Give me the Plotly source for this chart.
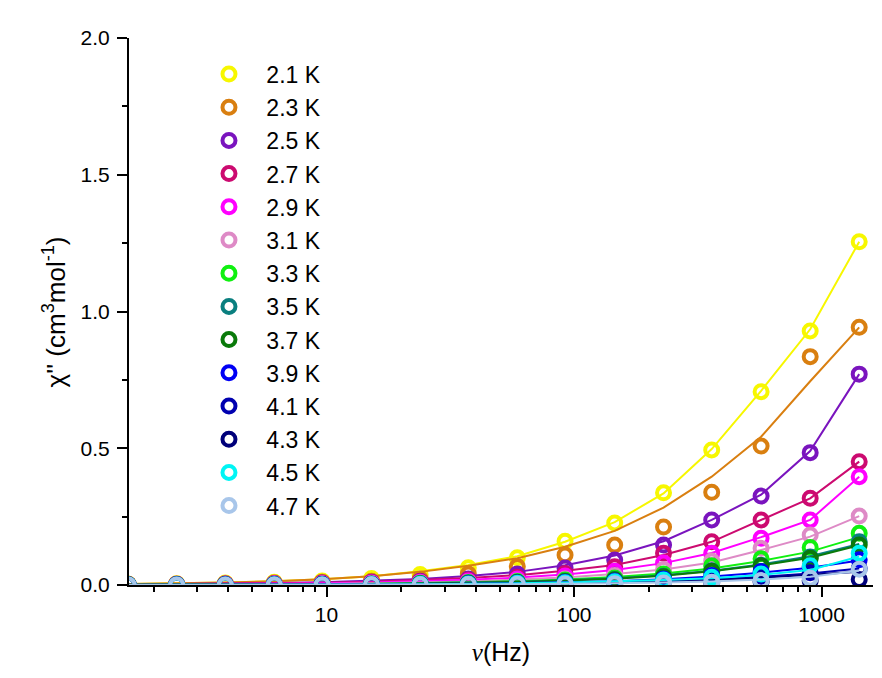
import plotly.graph_objects as go

# Frequencies (Hz)
freq = [1.58, 2.48, 3.9, 6.15, 9.6, 15.2, 23.9, 37.4, 59, 92, 146, 230, 360, 570, 900, 1420]

temps = ["2.1 K", "2.3 K", "2.5 K", "2.7 K", "2.9 K", "3.1 K", "3.3 K",
         "3.5 K", "3.7 K", "3.9 K", "4.1 K", "4.3 K", "4.5 K", "4.7 K"]

colors = ["#F7F700", "#D97F10", "#7A14BE", "#CC0A70", "#FF00FF", "#DE8AC6", "#10F010",
          "#0A7F7F", "#0A7A0A", "#0000F5", "#0000B0", "#00007A", "#00F5F5", "#A8C6EA"]

# Measured chi'' (cm3 mol-1)
chi_21 = [0.004, 0.005, 0.007, 0.010, 0.015, 0.024, 0.038, 0.063, 0.100, 0.160, 0.227, 0.337, 0.494, 0.707, 0.929, 1.255]
chi_23 = [0.003, 0.004, 0.005, 0.007, 0.010, 0.014, 0.022, 0.040, 0.068, 0.110, 0.146, 0.212, 0.339, 0.508, 0.835, 0.942]
chi_25 = [0.002, 0.003, 0.004, 0.005, 0.007, 0.010, 0.014, 0.022, 0.040, 0.062, 0.091, 0.146, 0.238, 0.325, 0.484, 0.771]
chi_27 = [0.002, 0.002, 0.003, 0.004, 0.006, 0.008, 0.012, 0.018, 0.028, 0.042, 0.067, 0.116, 0.158, 0.238, 0.317, 0.451]
chi_29 = [0.001, 0.002, 0.003, 0.004, 0.005, 0.007, 0.010, 0.015, 0.022, 0.033, 0.050, 0.080, 0.116, 0.171, 0.238, 0.396]
chi_31 = [0.001, 0.001, 0.002, 0.003, 0.004, 0.005, 0.007, 0.010, 0.015, 0.022, 0.035, 0.057, 0.088, 0.134, 0.183, 0.252]
chi_33 = [0.001, 0.001, 0.001, 0.002, 0.003, 0.004, 0.006, 0.009, 0.013, 0.018, 0.026, 0.040, 0.070, 0.096, 0.137, 0.189]
chi_35 = [0.001, 0.001, 0.001, 0.002, 0.002, 0.003, 0.005, 0.007, 0.010, 0.014, 0.020, 0.032, 0.052, 0.072, 0.102, 0.158]
chi_37 = [0.001, 0.001, 0.001, 0.001, 0.002, 0.003, 0.004, 0.006, 0.009, 0.013, 0.019, 0.030, 0.050, 0.070, 0.098, 0.146]
chi_39 = [0.000, 0.001, 0.001, 0.001, 0.002, 0.002, 0.003, 0.005, 0.007, 0.010, 0.015, 0.022, 0.035, 0.049, 0.067, 0.092]
chi_41 = [0.000, 0.000, 0.001, 0.001, 0.001, 0.002, 0.002, 0.003, 0.005, 0.007, 0.010, 0.015, 0.022, 0.032, 0.045, 0.060]
chi_43 = [0.000, 0.000, 0.000, 0.001, 0.001, 0.001, 0.002, 0.002, 0.003, 0.004, 0.006, 0.008, 0.010, 0.013, 0.016, 0.020]
chi_45 = [0.000, 0.000, 0.000, 0.001, 0.001, 0.002, 0.003, 0.004, 0.006, 0.008, 0.012, 0.018, 0.028, 0.040, 0.070, 0.116]
chi_47 = [0.000, 0.000, 0.000, 0.000, 0.000, 0.001, 0.001, 0.002, 0.003, 0.004, 0.005, 0.007, 0.010, 0.016, 0.025, 0.058]

# Fitted curves
fit_21 = [0.004, 0.006, 0.009, 0.014, 0.021, 0.032, 0.050, 0.073, 0.105, 0.158, 0.230, 0.335, 0.497, 0.710, 0.935, 1.255]
fit_23 = [0.004, 0.006, 0.009, 0.014, 0.021, 0.032, 0.048, 0.070, 0.098, 0.140, 0.198, 0.283, 0.396, 0.542, 0.745, 0.942]
fit_25 = [0.002, 0.003, 0.005, 0.007, 0.010, 0.015, 0.022, 0.033, 0.048, 0.072, 0.108, 0.160, 0.238, 0.330, 0.490, 0.771]
fit_27 = [0.002, 0.003, 0.004, 0.006, 0.008, 0.012, 0.018, 0.026, 0.036, 0.052, 0.073, 0.110, 0.158, 0.238, 0.317, 0.451]
fit_29 = [0.001, 0.002, 0.003, 0.004, 0.006, 0.009, 0.013, 0.019, 0.027, 0.038, 0.055, 0.080, 0.117, 0.175, 0.238, 0.396]
fit_31 = [0.001, 0.001, 0.002, 0.003, 0.004, 0.006, 0.009, 0.013, 0.019, 0.027, 0.040, 0.057, 0.082, 0.128, 0.177, 0.252]
fit_33 = [0.001, 0.001, 0.002, 0.002, 0.003, 0.005, 0.007, 0.010, 0.014, 0.020, 0.029, 0.042, 0.060, 0.088, 0.122, 0.175]
fit_35 = [0.001, 0.001, 0.001, 0.002, 0.003, 0.004, 0.006, 0.008, 0.012, 0.017, 0.025, 0.036, 0.052, 0.075, 0.105, 0.150]
fit_37 = [0.001, 0.001, 0.001, 0.002, 0.002, 0.003, 0.005, 0.007, 0.011, 0.016, 0.023, 0.034, 0.050, 0.072, 0.100, 0.145]
fit_39 = [0.000, 0.001, 0.001, 0.001, 0.002, 0.002, 0.003, 0.005, 0.007, 0.010, 0.014, 0.021, 0.031, 0.045, 0.063, 0.090]
fit_41 = [0.000, 0.000, 0.001, 0.001, 0.001, 0.002, 0.002, 0.003, 0.005, 0.007, 0.010, 0.014, 0.020, 0.030, 0.042, 0.060]
fit_43 = [0.000, 0.000, 0.000, 0.001, 0.001, 0.001, 0.002, 0.003, 0.004, 0.006, 0.009, 0.013, 0.019, 0.026, 0.036, 0.048]
fit_45 = [0.000, 0.000, 0.000, 0.001, 0.001, 0.002, 0.003, 0.004, 0.006, 0.009, 0.013, 0.018, 0.025, 0.037, 0.055, 0.104]
fit_47 = [0.000, 0.000, 0.000, 0.000, 0.001, 0.001, 0.001, 0.002, 0.003, 0.004, 0.006, 0.009, 0.013, 0.020, 0.030, 0.052]

chi_all = [chi_21, chi_23, chi_25, chi_27, chi_29, chi_31, chi_33,
           chi_35, chi_37, chi_39, chi_41, chi_43, chi_45, chi_47]
fit_all = [fit_21, fit_23, fit_25, fit_27, fit_29, fit_31, fit_33,
           fit_35, fit_37, fit_39, fit_41, fit_43, fit_45, fit_47]

FONT = "Liberation Sans, Arial, sans-serif"
NB = "\u00a0"
THIN = "\u2009"

fig = go.Figure()
for name, col, pts, fit in zip(temps, colors, chi_all, fit_all):
    fig.add_trace(go.Scatter(
        x=freq, y=fit, mode="lines", line=dict(color=col, width=2),
        legendgroup=name, showlegend=False, hoverinfo="skip"))
    label = NB * 2 + THIN + name
    fig.add_trace(go.Scatter(
        x=freq, y=pts, mode="markers", name=label, legendgroup=name,
        marker=dict(symbol="circle-open", size=13, color=col,
                    line=dict(color=col, width=4))))

minor_x = [m * 10 ** e for e in range(0, 4) for m in range(2, 10)]
minor_x = [v for v in minor_x if 1.5 < v < 1700]

fig.update_layout(
    width=874, height=670,
    margin=dict(l=121, r=9, t=30, b=93),
    paper_bgcolor="white", plot_bgcolor="white",
    font=dict(family=FONT, size=21, color="black"),
    showlegend=True,
    legend=dict(x=0.1075, y=0.9734, xanchor="left", yanchor="top",
                bgcolor="rgba(0,0,0,0)", font=dict(size=23, family=FONT),
                tracegroupgap=0.3, itemsizing="trace"),
    xaxis=dict(
        type="log", range=[0.202, 3.208],
        tickvals=[10, 100, 1000], ticktext=["10", "100", "1000"],
        showline=True, linecolor="black", linewidth=2,
        ticks="outside", ticklen=10, tickwidth=2, tickcolor="black",
        showgrid=False, zeroline=False,
        minor=dict(tickvals=minor_x, ticks="outside", ticklen=5,
                   tickwidth=2, tickcolor="black", showgrid=False),
        tickfont=dict(size=21, family=FONT),
        title=dict(text='<span style="font-family:Liberation Serif, Times New Roman, serif"><i>ν</i></span>(Hz)',
                   font=dict(size=25, family=FONT), standoff=18),
    ),
    yaxis=dict(
        range=[0, 2.0], tickvals=[0, 0.5, 1.0, 1.5, 2.0],
        ticktext=["0.0", "0.5", "1.0", "1.5", "2.0"],
        showline=True, linecolor="black", linewidth=2,
        ticks="outside", ticklen=10, tickwidth=2, tickcolor="black",
        showgrid=False, zeroline=False, ticklabelstandoff=3,
        minor=dict(tickvals=[0.25, 0.75, 1.25, 1.75], ticks="outside", ticklen=5,
                   tickwidth=2, tickcolor="black", showgrid=False),
        tickfont=dict(size=21, family=FONT),
    ),
    annotations=[dict(
        text="χ'' (cm<sup>3</sup>mol<sup>-1</sup>)",
        xref="paper", yref="paper", x=-0.0995, y=0.5,
        xanchor="center", yanchor="middle", textangle=-90, showarrow=False,
        font=dict(size=26, family=FONT, color="black"))],
)

fig.write_html("out.html")
